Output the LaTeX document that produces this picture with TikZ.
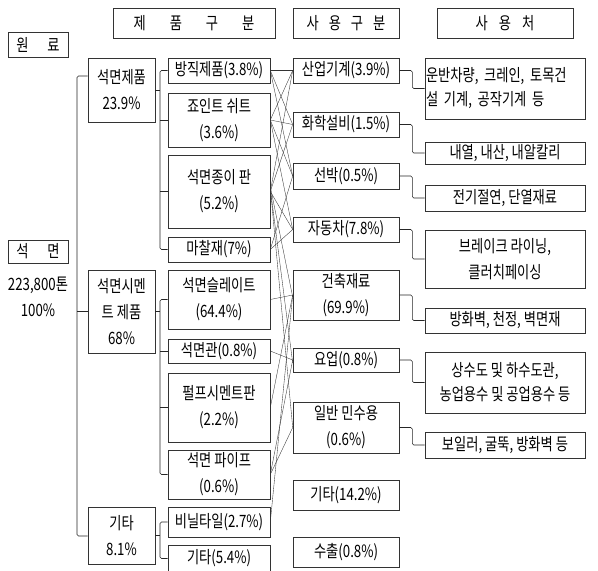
\documentclass[tikz,border=0pt]{standalone}
\usepackage{fontspec}
\newfontfamily\kr{Noto Sans CJK KR}[FakeStretch=0.78]
\usetikzlibrary{calc}
\begin{document}
\begin{tikzpicture}[x=1pt,y=-1pt,
  bx/.style={draw=black!80, line width=0.6pt, inner sep=0pt, align=center, font=\kr\fontsize{17}{26}\selectfont},
  tx/.style={inner sep=0pt, font=\kr\fontsize{17}{26}\selectfont},
  ln/.style={draw=black!85, line width=0.55pt, rounded corners=1.5pt},
  cr/.style={draw=black!80, line width=0.35pt}]
\useasboundingbox (0,0) rectangle (598,571);
\fill[white] (0,0) rectangle (598,571);
% headers
\node[bx,minimum width=162,minimum height=30] (h1) at (194,23) {제\hspace{24pt}품\hspace{24pt}구\hspace{24pt}분};
\node[bx,minimum width=106,minimum height=30] (h2) at (346,23) {사\hspace{10pt}용\hspace{10pt}구\hspace{10pt}분};
\node[bx,minimum width=136,minimum height=30] (h3) at (505,23) {사\hspace{11pt}용\hspace{11pt}처};
\node[bx,minimum width=60,minimum height=25] (r1) at (38,44.5) {원\hspace{19pt}료};
\node[bx,minimum width=60,minimum height=23] (r2) at (38,251.5) {석\hspace{19pt}면};
\node[tx] (r3) at (38,285) {223,800톤};
\node[tx] (r4) at (38,310) {100\%};
% column 1
\node[bx,minimum width=67,minimum height=64] (A1) at (121.5,90) {석면제품\\23.9\%};
\node[bx,minimum width=67,minimum height=83] (A2) at (121.5,311.5) {석면시멘\\트 제품\\68\%};
\node[bx,minimum width=67,minimum height=57] (A3) at (121.5,535.5) {기타\\8.1\%};
% column 2
\node[bx,minimum width=102,minimum height=25] (B1) at (219,70.5) {방직제품(3.8\%)};
\node[bx,minimum width=102,minimum height=54] (B2) at (219,120) {죠인트 쉬트\\(3.6\%)};
\node[bx,minimum width=102,minimum height=73] (B3) at (219,191.5) {석면종이 판\\(5.2\%)};
\node[bx,minimum width=102,minimum height=25] (B4) at (219,249.5) {마찰재(7\%)};
\node[bx,minimum width=102,minimum height=59] (B5) at (219,299.5) {석면슬레이트\\(64.4\%)};
\node[bx,minimum width=102,minimum height=24] (B6) at (219,351) {석면관(0.8\%)};
\node[bx,minimum width=102,minimum height=69] (B7) at (219,407.5) {펄프시멘트판\\(2.2\%)};
\node[bx,minimum width=102,minimum height=49] (B8) at (219,474.5) {석면 파이프\\(0.6\%)};
\node[bx,minimum width=102,minimum height=30] (B9) at (219,522) {비닐타일(2.7\%)};
\node[bx,minimum width=102,minimum height=27] (B10) at (219,558.5) {기타(5.4\%)};
% column 3
\node[bx,minimum width=106,minimum height=25] (C1) at (346,70.5) {산업기계(3.9\%)};
\node[bx,minimum width=106,minimum height=25] (C2) at (346,124.5) {화학설비(1.5\%)};
\node[bx,minimum width=106,minimum height=26] (C3) at (346,176) {선박(0.5\%)};
\node[bx,minimum width=106,minimum height=25] (C4) at (346,229.5) {자동차(7.8\%)};
\node[bx,minimum width=106,minimum height=50] (C5) at (346,295) {건축재료\\(69.9\%)};
\node[bx,minimum width=106,minimum height=24] (C6) at (346,360) {요업(0.8\%)};
\node[bx,minimum width=106,minimum height=51] (C7) at (346,427.5) {일반 민수용\\(0.6\%)};
\node[bx,minimum width=106,minimum height=30] (C8) at (346,495) {기타(14.2\%)};
\node[bx,minimum width=106,minimum height=30] (C9) at (346,552) {수출(0.8\%)};
% column 4
\node[bx,minimum width=160,minimum height=61,align=left,text width=158,font=\kr\fontsize{17}{24}\selectfont] (D1) at (505,88.5) {운반차량, 크레인, 토목건\\설 기계, 공작기계 등};
\node[bx,minimum width=160,minimum height=22] (D2) at (505,153) {내열, 내산, 내알칼리};
\node[bx,minimum width=160,minimum height=26] (D3) at (505,198) {전기절연, 단열재료};
\node[bx,minimum width=160,minimum height=58] (D4) at (505,259) {브레이크 라이닝,\\클러치페이싱};
\node[bx,minimum width=160,minimum height=25] (D5) at (505,320.5) {방화벽, 천정, 벽면재};
\node[bx,minimum width=160,minimum height=61,font=\kr\fontsize{17}{24}\selectfont] (D6) at (505,382.5) {상수도 및 하수도관,\\농업용수 및 공업용수 등};
\node[bx,minimum width=160,minimum height=26] (D7) at (505,445) {보일러, 굴뚝, 방화벽 등};
% trunk
\coordinate (t1) at (77,76);
\coordinate (t2) at (77,536);
\draw[ln] (A1.west|-t1) -- (t1) -- (t2) -- (A3.west|-t2);
\draw[ln] (A2.west) -- (A2.west-|t1);
% brackets
\coordinate (v) at (160,0);
\draw[ln] (B1.west) -| (v|-B4.west) -- (B4.west);
\draw[ln] (B2.west) -- (B2.west-|v);
\draw[ln] (B3.west) -- (B3.west-|v);
\draw[ln] (A1.east) -- (A1.east-|v);
\draw[ln] (B5.west) -| (v|-B8.west) -- (B8.west);
\draw[ln] (B6.west) -- (B6.west-|v);
\draw[ln] (B7.west) -- (B7.west-|v);
\draw[ln] (A2.east) -- (A2.east-|v);
\draw[ln] (B9.west) -| (v|-B10.west) -- (B10.west);
\draw[ln] (A3.east) -- (A3.east-|v);
% usage -> destinations
\foreach \u/\d in {C1/D1,C2/D2,C3/D3,C4/D4,C5/D5,C6/D6,C7/D7}
  \draw[ln] (\u.east) -- ++(13,0) |- (\d.west);
% crossing connectors
\foreach \p/\q in {B1/C1,B1/C2,B1/C3,B2/C1,B2/C2,B2/C3,B2/C4,B3/C1,B3/C2,B3/C4,B4/C3,B4/C4,B5/C5,B6/C6,B7/C5,B8/C6,B8/C7,B9/C5}
  \draw[cr] (\p.east) -- (\q.west);
\draw[cr] ($(B3.east)+(0,-5)$) -- ($(C5.west)+(0,2)$);
\draw[cr] ($(B3.east)+(0,-3)$) -- ($(C6.west)+(0,3)$);
\draw[cr] ($(B3.east)+(0,-4)$) -- ($(C7.west)+(0,0)$);
\end{tikzpicture}
\end{document}
